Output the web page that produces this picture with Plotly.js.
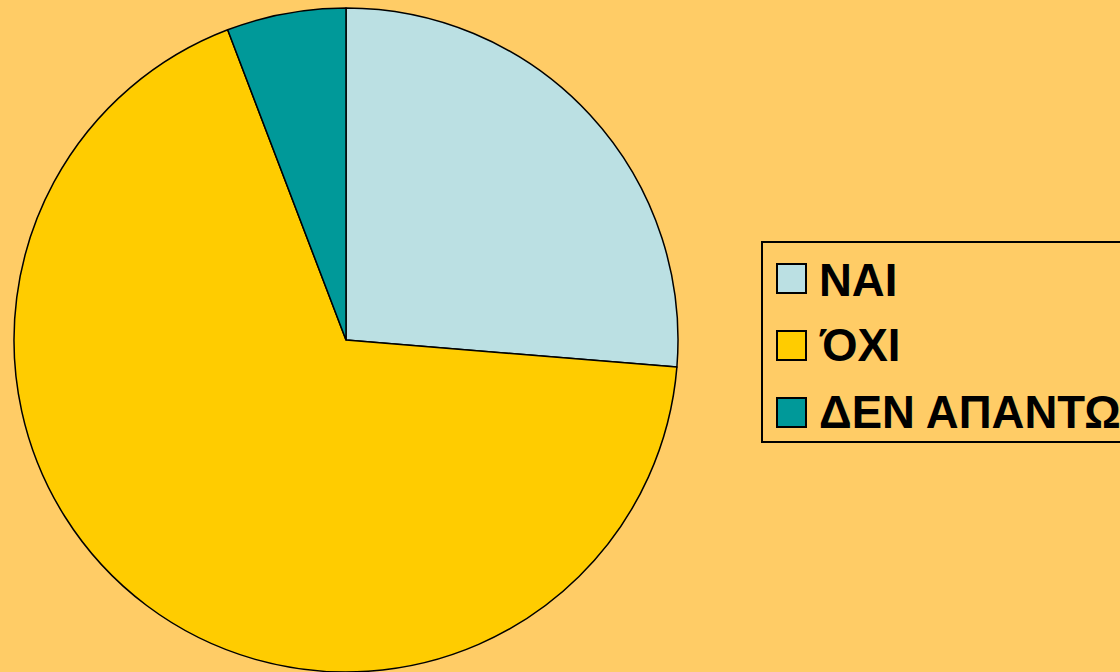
<!DOCTYPE html>
<html>
<head>
<meta charset="utf-8">
<script src="https://cdn.plot.ly/plotly-3.0.1.min.js"></script>
<style>html,body{margin:0;padding:0;background:#FFCC66;}#chart{width:1120px;height:672px;}</style>
</head>
<body>
<div id="chart"></div>
<script>
const categories = ["ΝΑΙ", "ΌΧΙ", "ΔΕΝ ΑΠΑΝΤΩ"];
const values = [26.3, 67.9, 5.8];
const colors = ["#BBE0E3", "#FFCC00", "#009999"];

const W = 1120, H = 672;
const px = x => x / W;
const py = y => 1 - y / H;

const trace = {
  type: "pie",
  labels: categories,
  values: values,
  sort: false,
  direction: "clockwise",
  rotation: 0,
  textinfo: "none",
  hoverinfo: "label+percent",
  marker: { colors: colors, line: { color: "#000000", width: 1.5 } },
  domain: { x: [px(13), px(679)], y: [0, py(8)] },
  showlegend: false
};

const shapes = [{
  type: "rect", xref: "paper", yref: "paper",
  x0: px(762), x1: px(1135), y0: py(442), y1: py(242),
  line: { color: "#000000", width: 2 }, fillcolor: "rgba(0,0,0,0)"
}];
const annotations = [];
const rowTop = [264, 331, 398];
const textMid = [280, 346, 412];
categories.forEach((c, i) => {
  shapes.push({
    type: "rect", xref: "paper", yref: "paper",
    x0: px(777), x1: px(806), y0: py(rowTop[i] + 29), y1: py(rowTop[i]),
    line: { color: "#000000", width: 2 }, fillcolor: colors[i]
  });
  annotations.push({
    xref: "paper", yref: "paper", x: px(817), y: py(textMid[i]),
    xanchor: "left", yanchor: "middle", showarrow: false,
    text: "<b>" + c + "</b>",
    font: { family: "Liberation Sans, Arial, sans-serif", size: 45.5, color: "#000000" }
  });
});

const layout = {
  width: W, height: H,
  margin: { l: 0, r: 0, t: 0, b: 0 },
  paper_bgcolor: "#FFCC66",
  plot_bgcolor: "#FFCC66",
  showlegend: false,
  shapes: shapes,
  annotations: annotations
};

Plotly.newPlot("chart", [trace], layout, { displayModeBar: false, staticPlot: true });
</script>
</body>
</html>
